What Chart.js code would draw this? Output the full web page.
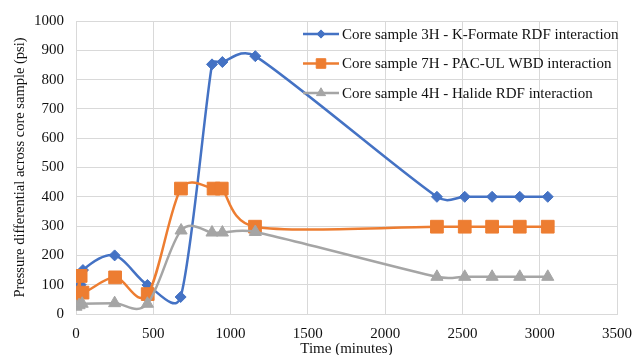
<!DOCTYPE html>
<html lang="en">
<head>
  <meta charset="UTF-8">
  <title>Pressure differential across core sample</title>
  <style>
    html, body { margin: 0; padding: 0; background: #fff; }
    #wrap { width: 643px; height: 355px; position: relative; }
  </style>
</head>
<body>
<div id="wrap"><canvas id="pressureChart"></canvas></div>

<script src="https://cdn.jsdelivr.net/npm/chart.js"></script>
<script>
  // time in minutes, pressure in psi
  const times3H = [0, 30, 45, 250, 462, 677, 880, 947, 1160, 2335, 2515, 2692, 2871, 3052];
  const psi3H   = [85, 100, 150, 200, 99, 58, 852, 860, 880, 400, 400, 400, 400, 400];

  const times7H = [0, 30, 42, 253, 464, 679, 890, 943, 1158, 2335, 2515, 2692, 2871, 3052];
  const psi7H   = [45, 130, 73, 125, 68, 428, 428, 428, 298, 298, 298, 298, 298, 298];

  const times4H = [0, 20, 40, 250, 462, 680, 880, 947, 1160, 2335, 2515, 2692, 2871, 3052];
  const psi4H   = [25, 30, 35, 37, 35, 285, 278, 278, 280, 127, 127, 127, 127, 127];

  const seriesLabels = [
    'Core sample 3H - K-Formate RDF interaction',
    'Core sample 7H - PAC-UL WBD interaction',
    'Core sample 4H - Halide RDF interaction'
  ];
  const xTicks = [0, 500, 1000, 1500, 2000, 2500, 3000, 3500];
  const yTicks = [0, 100, 200, 300, 400, 500, 600, 700, 800, 900, 1000];

  const serif = "'Liberation Serif', 'Times New Roman', serif";
  const gridColor = '#d9d9d9';

  function toPoints(xs, ys) {
    return xs.map((x, i) => ({ x: x, y: ys[i] }));
  }

  // Excel style smoothing: tangent = (next - prev) / 6, capped at half the
  // neighbouring segment so short segments don't loop too far
  const excelSmooth = {
    id: 'excelSmooth',
    beforeDatasetDraw(chart, args) {
      const line = args.meta.dataset;
      const pts = args.meta.data;
      if (!line || pts.length < 2) return;
      line.updateControlPoints(chart.chartArea, args.meta.iAxis);
      const n = pts.length;
      for (let i = 0; i < n; i++) {
        const p = pts[i];
        const prev = pts[Math.max(i - 1, 0)];
        const next = pts[Math.min(i + 1, n - 1)];
        const tx = (next.x - prev.x) / 6;
        const ty = (next.y - prev.y) / 6;
        const len = Math.hypot(tx, ty) || 1;
        const before = i > 0 ? Math.hypot(p.x - prev.x, p.y - prev.y) / 2 : 0;
        const after = i < n - 1 ? Math.hypot(next.x - p.x, next.y - p.y) / 2 : 0;
        const kb = Math.min(1, before / len);
        const ka = Math.min(1, after / len);
        p.cp1x = p.x - tx * kb;
        p.cp1y = p.y - ty * kb;
        p.cp2x = p.x + tx * ka;
        p.cp2y = p.y + ty * ka;
      }
      line._path = undefined;
    }
  };

  // legend sits inside the plot, top right, like the Excel original
  const insideLegend = {
    id: 'insideLegend',
    afterDraw(chart) {
      const ctx = chart.ctx;
      const area = chart.chartArea;
      const x0 = area.left + 227;
      ctx.save();
      chart.data.datasets.forEach((ds, i) => {
        const y = area.top + 13 + i * 29.5;
        ctx.strokeStyle = ds.borderColor;
        ctx.fillStyle = ds.backgroundColor;
        ctx.lineWidth = 2.5;
        ctx.beginPath();
        ctx.moveTo(x0, y);
        ctx.lineTo(x0 + 36, y);
        ctx.stroke();
        ctx.lineWidth = 1;
        Chart.helpers.drawPoint(ctx, {
          pointStyle: ds.pointStyle,
          radius: ds.pointRadius * 0.75,
          rotation: 0,
          borderWidth: 1
        }, x0 + 18, y);
        ctx.fillStyle = '#111';
        ctx.font = '15px ' + serif;
        ctx.textBaseline = 'middle';
        ctx.textAlign = 'left';
        ctx.fillText(ds.label, x0 + 39, y + 1);
      });
      ctx.restore();
    }
  };

  const ctx = document.getElementById('pressureChart').getContext('2d');
  new Chart(ctx, {
    type: 'scatter',
    data: {
      datasets: [
        {
          label: seriesLabels[0],
          data: toPoints(times3H, psi3H),
          showLine: true,
          borderColor: '#4472C4',
          backgroundColor: '#4472C4',
          borderWidth: 2.5,
          pointStyle: 'rectRot',
          pointRadius: 5.5,
          pointBorderWidth: 1,
          tension: 0.5,
          order: 2
        },
        {
          label: seriesLabels[1],
          data: toPoints(times7H, psi7H),
          showLine: true,
          borderColor: '#ED7D31',
          backgroundColor: '#ED7D31',
          borderWidth: 2.5,
          pointStyle: 'rect',
          pointRadius: 9,
          pointBorderWidth: 1,
          tension: 0.5,
          order: 1
        },
        {
          label: seriesLabels[2],
          data: toPoints(times4H, psi4H),
          showLine: true,
          borderColor: '#A5A5A5',
          backgroundColor: '#A5A5A5',
          borderWidth: 2.5,
          pointStyle: 'triangle',
          pointRadius: 7,
          pointBorderWidth: 1,
          tension: 0.5,
          order: 0
        }
      ]
    },
    options: {
      responsive: true,
      maintainAspectRatio: false,
      animation: false,
      layout: { padding: { top: 19, right: 15, left: 0, bottom: 0 } },
      scales: {
        x: {
          type: 'linear',
          min: 0,
          max: 3500,
          afterBuildTicks: (scale) => { scale.ticks = xTicks.map(v => ({ value: v })); },
          afterFit: (scale) => { scale.height = 41; },
          grid: { color: gridColor, drawTicks: false },
          border: { color: gridColor },
          ticks: {
            color: '#111',
            font: { family: serif, size: 15 },
            padding: 11,
            callback: (v) => String(v)
          },
          title: {
            display: true,
            text: 'Time (minutes)',
            color: '#111',
            font: { family: serif, size: 15 },
            padding: { top: 0, bottom: -3 }
          }
        },
        y: {
          min: 0,
          max: 1000,
          afterBuildTicks: (scale) => { scale.ticks = yTicks.map(v => ({ value: v })); },
          afterFit: (scale) => { scale.width = 76; },
          grid: { color: gridColor, drawTicks: false },
          border: { color: gridColor },
          ticks: {
            color: '#111',
            font: { family: serif, size: 15 },
            padding: 12,
            callback: (v) => String(v)
          },
          title: {
            display: true,
            text: 'Pressure differential across core sample (psi)',
            color: '#111',
            font: { family: serif, size: 14.5 },
            padding: { top: 11, bottom: 0 }
          }
        }
      },
      plugins: {
        legend: { display: false },
        tooltip: { enabled: false }
      }
    },
    plugins: [excelSmooth, insideLegend]
  });
</script>
</body>
</html>
